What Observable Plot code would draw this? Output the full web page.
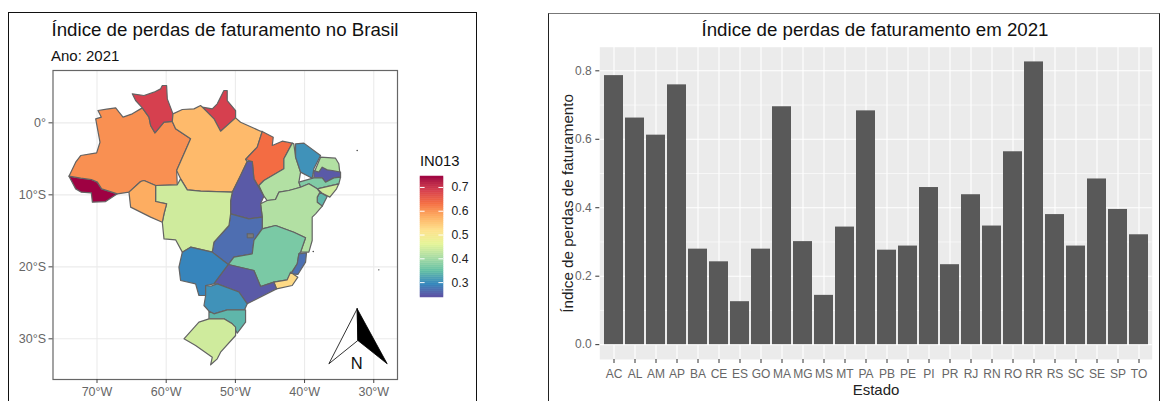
<!DOCTYPE html>
<html><head><meta charset="utf-8">
<script src="https://cdn.jsdelivr.net/npm/d3@7"></script>
<script src="https://cdn.jsdelivr.net/npm/@observablehq/plot@0.6"></script>
<style>
html,body{margin:0;padding:0;background:#fff;width:1160px;height:401px;overflow:hidden;font-family:"Liberation Sans",Arial,sans-serif}
.abs{position:absolute}
.t{position:absolute;white-space:nowrap;color:#111;line-height:1}
svg{position:absolute;overflow:visible;background:none!important}
</style></head><body>
<div class="abs" style="left:7.5px;top:11.5px;width:467px;height:400px;border:1.7px solid #111"></div>
<div class="abs" style="left:548px;top:12.5px;width:610px;height:400px;border:1px solid #222;border-top:1.5px solid #777"></div>
<div class="t" style="left:51.5px;top:20.5px;font-size:18.7px">Índice de perdas de faturamento no Brasil</div>
<div class="t" style="left:51px;top:47.5px;font-size:15px">Ano: 2021</div>
<div class="t" style="left:420px;top:154px;font-size:14.8px">IN013</div>
<div class="t" style="left:875px;top:20.5px;font-size:18.7px;transform:translateX(-50%)">Índice de perdas de faturamento em 2021</div>
<div id="m"></div><div id="l"></div><div id="b"></div>
<script>
// ---------- Mapa: contornos dos estados (lon, lat) ----------
const AC=[[-74.05,-7.41],[-72.36,-7.69],[-70.82,-7.87],[-69.95,-8.24],[-69.33,-9.17],[-67.06,-9.86],[-68.75,-10.93],[-70.67,-11.02],[-70.82,-9.72],[-72.26,-9.63],[-73.08,-9.17]];
const AM=[[-74.05,-7.41],[-73.08,-5.46],[-72.36,-4.54],[-70.05,-4.17],[-69.57,-2.69],[-70.19,0.56],[-69.37,0.79],[-69.86,1.71],[-68.6,1.9],[-67.3,2.08],[-66.82,1.48],[-66.24,0.79],[-64.9,1.25],[-63.45,2.08],[-62.49,0.79],[-62.25,-0.37],[-61.62,-1.39],[-60.32,0.09],[-59.12,0.19],[-58.64,-0.83],[-56.47,-2.22],[-58.49,-6.62],[-58.4,-8.61],[-61.53,-8.7],[-63.21,-8.01],[-63.69,-8.15],[-65.38,-9.63],[-67.06,-9.86],[-69.33,-9.17],[-69.95,-8.24],[-70.82,-7.87],[-72.36,-7.69]];
const RR=[[-64.9,4.03],[-64.42,3.1],[-63.45,2.08],[-62.49,0.79],[-62.25,-0.37],[-61.62,-1.39],[-60.32,0.09],[-59.12,0.19],[-59.02,1.25],[-59.84,3.33],[-59.94,5.19],[-60.56,5.19],[-60.8,4.72],[-61.77,4.26],[-63.21,3.8]];
const AP=[[-54.79,2.18],[-53.34,1.94],[-52.62,2.64],[-51.66,4.49],[-51.18,4.49],[-51.18,3.1],[-49.97,1.71],[-49.97,0.69],[-52.14,-1.16],[-53.1,0.56],[-54.06,1.48]];
const PA=[[-59.12,0.19],[-59.02,1.25],[-57.67,1.85],[-55.99,1.94],[-55.03,2.41],[-54.79,2.18],[-54.06,1.48],[-53.1,0.56],[-52.14,-1.16],[-49.97,0.69],[-49.25,0.09],[-46.36,-1.16],[-46.12,-1.2],[-46.84,-3.38],[-48.53,-5.09],[-48.29,-5.37],[-49.25,-7.31],[-50.45,-9.63],[-55.03,-9.49],[-56.95,-9.31],[-57.92,-7.78],[-58.49,-6.62],[-56.47,-2.22],[-58.64,-0.83]];
const MA=[[-46.12,-1.2],[-44.53,-1.99],[-44.67,-3.15],[-43.23,-2.55],[-41.78,-2.82],[-42.99,-5],[-42.99,-6.39],[-45.88,-8.01],[-46.6,-8.7],[-45.88,-10.19],[-47.32,-7.78],[-47.56,-5.37],[-48.53,-5.09],[-46.84,-3.38]];
const PI=[[-41.78,-2.82],[-41.55,-2.92],[-41.3,-4.77],[-40.58,-6.85],[-40.82,-8.24],[-40.58,-8.94],[-42.27,-9.4],[-43.71,-9.63],[-44.2,-10.65],[-45.4,-10.79],[-45.88,-10.19],[-46.6,-8.7],[-45.88,-8.01],[-42.99,-6.39],[-42.99,-5]];
const CE=[[-41.3,-2.92],[-40.1,-2.82],[-37.69,-4.54],[-38.66,-6.39],[-38.9,-7.69],[-40.58,-6.85],[-41.3,-4.77]];
const RN=[[-37.69,-4.77],[-35.53,-4.91],[-35.05,-5.69],[-34.9,-7],[-38.66,-7]];
const PB=[[-38.66,-6.62],[-37.94,-6.85],[-37.45,-6.16],[-36.73,-6.53],[-36,-6.62],[-34.8,-6.85],[-34.8,-7.55],[-35.77,-7.64],[-36.97,-8.24],[-37.45,-7.64],[-38.66,-7.64]];
const PE=[[-40.82,-8.24],[-38.66,-7.64],[-37.45,-7.64],[-36.97,-8.24],[-35.77,-7.64],[-34.8,-7.55],[-35.05,-8.47],[-38.17,-9.17],[-39.38,-8.47],[-40.58,-8.94]];
const AL=[[-38.17,-9.17],[-35.05,-8.47],[-35.38,-9.17],[-36.35,-10.32],[-37.45,-9.77]];
const SE=[[-37.79,-9.63],[-36.73,-10.23],[-37.45,-11.57],[-38.17,-11.02],[-38.17,-10.32]];
const BA=[[-40.58,-8.94],[-39.38,-8.47],[-38.17,-9.17],[-37.79,-9.63],[-38.17,-10.32],[-38.17,-11.02],[-37.45,-11.57],[-38.41,-12.64],[-38.9,-13.1],[-38.9,-16.34],[-39.38,-17.96],[-40.58,-17.96],[-39.86,-15.97],[-41.55,-15.19],[-44.19,-14.26],[-46.12,-14.72],[-46.12,-13.1],[-46.36,-11.25],[-45.4,-10.79],[-44.2,-10.65],[-43.71,-9.63],[-42.27,-9.4]];
const TO=[[-48.29,-5.37],[-47.56,-5.37],[-47.32,-7.78],[-45.88,-10.19],[-46.36,-11.25],[-46.12,-13.1],[-48.05,-13.33],[-50.69,-12.64],[-50.69,-10.79],[-50.45,-9.63],[-49.25,-7.31]];
const GO=[[-50.69,-12.64],[-48.05,-13.33],[-46.12,-13.1],[-46.12,-14.72],[-47.32,-16.34],[-47.56,-18.19],[-50.21,-18.66],[-51.03,-19.68],[-53.34,-17.96],[-53.1,-16.57],[-50.93,-14.26]];
const DF=[[-48.29,-15.42],[-47.4,-15.42],[-47.4,-15.97],[-48.29,-15.97]];
const MT=[[-61.53,-8.7],[-58.4,-8.61],[-57.92,-7.78],[-56.95,-9.31],[-55.03,-9.49],[-50.45,-9.63],[-50.69,-10.79],[-50.69,-12.64],[-50.93,-14.26],[-53.1,-16.57],[-53.34,-17.96],[-56.47,-17.27],[-57.67,-17.96],[-58.64,-16.25],[-60.32,-16.11],[-60.56,-13.8],[-60.32,-12.64],[-59.94,-11.25],[-61.53,-10.93]];
const RO=[[-65.38,-9.63],[-63.69,-8.15],[-63.21,-8.01],[-61.53,-8.7],[-61.53,-10.93],[-59.94,-11.25],[-60.32,-12.64],[-60.56,-13.8],[-62.25,-13.1],[-65.14,-11.71]];
const MS=[[-57.67,-17.96],[-56.47,-17.27],[-53.34,-17.96],[-51.03,-19.68],[-53.1,-22.36],[-54.3,-22.59],[-54.3,-23.98],[-55.27,-23.98],[-55.75,-22.36],[-57.92,-21.9],[-58.16,-20.05]];
const MG=[[-51.03,-19.68],[-50.21,-18.66],[-47.56,-18.19],[-47.32,-16.34],[-46.12,-14.72],[-44.19,-14.26],[-41.55,-15.19],[-39.86,-15.97],[-40.58,-17.96],[-40.82,-18.19],[-41.06,-19.58],[-42.03,-20.97],[-42.51,-21.81],[-44.43,-22.13],[-46.36,-22.73],[-47.32,-20.51]];
const ES=[[-40.82,-18.19],[-39.72,-18.06],[-39.86,-19.35],[-40.97,-21.06],[-41.93,-20.97],[-41.06,-19.58]];
const RJ=[[-44.43,-22.13],[-42.51,-21.81],[-42.03,-20.74],[-40.97,-21.44],[-41.79,-22.59],[-44.05,-23.06]];
const SP=[[-51.03,-19.68],[-47.32,-20.51],[-46.36,-22.73],[-44.43,-22.13],[-44.05,-23.06],[-48.29,-25.14],[-49.49,-23.5],[-52.62,-22.36],[-53.1,-22.36]];
const PR=[[-53.58,-22.69],[-52.62,-22.36],[-49.49,-23.5],[-48.29,-25.14],[-48.67,-25.97],[-51.17,-25.97],[-53.1,-26.53],[-53.82,-26.16],[-54.54,-25.37],[-54.3,-23.98],[-54.3,-22.59]];
const SC=[[-53.82,-26.16],[-53.1,-26.53],[-51.17,-25.97],[-48.53,-25.97],[-48.53,-27.69],[-49.73,-29.22],[-50.45,-27.92],[-51.66,-27.22],[-53.82,-27.22]];
const RS=[[-53.82,-27.22],[-51.66,-27.22],[-50.45,-27.92],[-49.97,-28.38],[-49.97,-29.54],[-52.14,-31.85],[-52.62,-32.78],[-53.58,-33.61],[-53.34,-32.55],[-55.75,-30.93],[-57.43,-30],[-55.27,-27.69]];
const mapaUF=["AC","AM","RR","AP","PA","MA","PI","CE","RN","PB","PE","AL","SE","BA","TO","GO","MT","RO","MS","MG","ES","RJ","SP","PR","SC","RS"];
const mapaContornos=[AC,AM,RR,AP,PA,MA,PI,CE,RN,PB,PE,AL,SE,BA,TO,GO,MT,RO,MS,MG,ES,RJ,SP,PR,SC,RS];
const mapaValores=[0.746,0.604,0.687,0.687,0.563,0.634,0.413,0.304,0.413,0.2475,0.37,0.441,0.339,0.413,0.2475,0.268,0.441,0.577,0.291,0.365,0.27,0.527,0.2475,0.304,0.339,0.441];
const ilhas=[[-32.4,-3.84],[-29.27,-20.42],[-38.75,-17.87]];
// Rosa dos ventos
const setaDir=[[-32.4,-25.83],[-28.06,-33.47],[-32.3,-30.23]];
const setaEsq=[[-32.4,-25.83],[-36.49,-33.47],[-32.3,-30.23]];
const setaN=[[-32.45,-33.45]];
const lonTicks=[-70,-60,-50,-40,-30];
const latTicks=[0,-10,-20,-30];
const legendaTicks=[0.3,0.4,0.5,0.6,0.7];
const dominioCor=[0.2375,0.746];
const espectral=["#5E4FA2","#3288BD","#66C2A5","#ABDDA4","#E6F598","#FEE08B","#FDAE61","#F46D43","#D53E4F","#9E0142"];
// ---------- Barras ----------
const estados=["AC","AL","AM","AP","BA","CE","ES","GO","MA","MG","MS","MT","PA","PB","PE","PI","PR","RJ","RN","RO","RR","RS","SC","SE","SP","TO"];
const indice=[0.786,0.662,0.612,0.759,0.279,0.242,0.1255,0.279,0.695,0.301,0.144,0.3435,0.683,0.276,0.288,0.459,0.2336,0.438,0.3465,0.5635,0.826,0.38,0.288,0.484,0.395,0.321];
const barTicks=[0,0.2,0.4,0.6,0.8];
const barMinor=[0.1,0.3,0.5,0.7];

const fechado=c=>[...c,c[0]];
const pontos=mapaUF.flatMap((uf,i)=>fechado(mapaContornos[i]).map(([lon,lat])=>({uf,lon,lat,v:mapaValores[i]})));
const cor={type:"linear",domain:dominioCor,interpolate:d3.piecewise(d3.interpolateLab,espectral)};
const lonFmt=d=>`${Math.abs(d)}°W`;
const latFmt=d=>d===0?"0°":`${Math.abs(d)}°S`;
const place=(p,x,y,id)=>{p.style.left=x+"px";p.style.top=y+"px";document.getElementById(id).appendChild(p);};
const font={fontFamily:"Liberation Sans, Arial, sans-serif",background:"transparent"};

const mapa=Plot.plot({width:480,height:401,marginLeft:52.5,marginRight:83,marginTop:70,marginBottom:22,style:{...font,fontSize:"12.5px"},
 x:{domain:[-76.36,-26.57],label:null},y:{domain:[-35.65,7.27],label:null},color:cor,
 marks:[
  Plot.gridX(lonTicks,{stroke:"#ebebeb",strokeOpacity:1,strokeWidth:1.1}),
  Plot.gridY(latTicks,{stroke:"#ebebeb",strokeOpacity:1,strokeWidth:1.1}),
  Plot.line(pontos,{x:"lon",y:"lat",z:"uf",fill:"v",stroke:"#636363",strokeWidth:1.2,strokeLinejoin:"round"}),
  Plot.line(fechado(DF),{x:d=>d[0],y:d=>d[1],fill:"#7a7a7a",stroke:"#636363",strokeWidth:1}),
  Plot.dot(ilhas,{x:d=>d[0],y:d=>d[1],r:0.7,fill:"#333"}),
  Plot.line(fechado(setaEsq),{x:d=>d[0],y:d=>d[1],fill:"#fff",stroke:"#000",strokeWidth:0.8}),
  Plot.line(fechado(setaDir),{x:d=>d[0],y:d=>d[1],fill:"#000",stroke:"#000",strokeWidth:0.8}),
  Plot.text(setaN,{x:d=>d[0],y:d=>d[1],text:["N"],fontSize:16.5,fill:"#111"}),
  Plot.frame({stroke:"#666",strokeWidth:1.2}),
  Plot.axisX(lonTicks,{tickFormat:lonFmt,tickSize:4,tickPadding:4,stroke:"#444",fill:"#666",label:null}),
  Plot.axisY(latTicks,{tickFormat:latFmt,tickSize:4,tickPadding:3,stroke:"#444",fill:"#666",label:null})
 ]});
place(mapa,0,0,"m");

const passos=d3.range(0,60).map(i=>{const a=dominioCor[0],s=(dominioCor[1]-a)/60;return {y1:a+i*s,y2:a+(i+1)*s,v:a+(i+.5)*s};});
const legenda=Plot.plot({width:60,height:121,marginLeft:0,marginRight:37,marginTop:0,marginBottom:0,style:{...font,fontSize:"12.2px"},
 x:{domain:[0,1],axis:null},y:{domain:dominioCor,label:null},color:cor,
 marks:[
  Plot.rect(passos,{x1:0,x2:1,y1:"y1",y2:"y2",fill:"v",stroke:"v",strokeWidth:0.5}),
  Plot.ruleY(legendaTicks,{x1:0,x2:0.2,stroke:"#fff",strokeWidth:1}),
  Plot.ruleY(legendaTicks,{x1:0.8,x2:1,stroke:"#fff",strokeWidth:1}),
  Plot.axisY(legendaTicks,{anchor:"right",tickSize:0,tickPadding:8,tickFormat:d3.format(".1f"),fill:"#222",label:null})
 ]});
place(legenda,420,176,"l");

const barras=Plot.plot({width:612,height:401,marginLeft:51.3,marginRight:8.3,marginTop:46.7,marginBottom:42,style:{...font,fontSize:"12px"},
 x:{domain:estados,paddingInner:0.1,paddingOuter:0.15,label:null},
 y:{domain:[-0.0434,0.869],label:null},
 marks:[
  Plot.frame({fill:"#ebebeb",stroke:"none"}),
  Plot.gridY(barMinor,{stroke:"#fff",strokeOpacity:1,strokeWidth:0.6}),
  Plot.gridY(barTicks,{stroke:"#fff",strokeOpacity:1,strokeWidth:1.1}),
  Plot.gridX(estados,{stroke:"#fff",strokeOpacity:1,strokeWidth:1.1}),
  Plot.barY(estados.map((e,i)=>({e,v:indice[i]})),{x:"e",y:"v",fill:"#595959"}),
  Plot.axisX(estados,{tickSize:4,tickPadding:5.5,stroke:"#333",fill:"#666",label:null,fontSize:12}),
  Plot.axisY(barTicks,{tickSize:4,tickPadding:4,stroke:"#333",fill:"#666",tickFormat:d3.format(".1f"),label:null,fontSize:12}),
  Plot.axisX({anchor:"bottom",ticks:[],label:"Estado",labelAnchor:"center",labelArrow:"none",labelOffset:35,fontSize:15,fill:"#222"}),
  Plot.axisY({anchor:"left",ticks:[],label:"Índice de perdas de faturamento",labelAnchor:"center",labelArrow:"none",labelOffset:38,fontSize:15.2,fill:"#222"})
 ]});
place(barras,548,0,"b");
</script>
</body></html>
